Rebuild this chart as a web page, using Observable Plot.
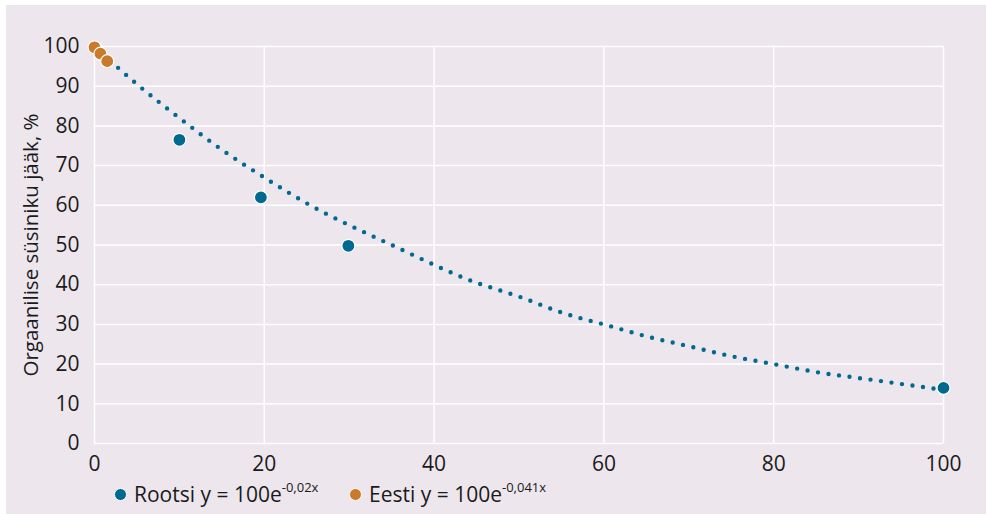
<!DOCTYPE html>
<html><head><meta charset="utf-8">
<script src="https://cdn.jsdelivr.net/npm/d3@7"></script>
<script src="https://cdn.jsdelivr.net/npm/@observablehq/plot@0.6"></script>
<style>
html,body{margin:0;padding:0;background:#fff;}
#wrap{position:absolute;left:6px;top:5px;width:980px;height:509px;background:#ede6ed;font-family:"Open Sans","Noto Sans",sans-serif;color:#1a1a1a;}
#chart{position:absolute;left:0;top:0;}
#ylab{position:absolute;left:24px;top:240px;transform:translate(-50%,-50%) rotate(-90deg);font-size:20.5px;white-space:nowrap;line-height:1;}
.leg{position:absolute;top:476px;height:26px;display:flex;align-items:center;font-size:21px;white-space:nowrap;}
.leg .m{width:11px;height:11px;border-radius:50%;border:1px solid #fff;margin-right:7px;}
.leg sup{font-size:13px;position:relative;top:-2px;}
</style></head>
<body>
<div id="wrap"><div id="chart"></div>
<div id="ylab"></div>
<div class="leg" id="leg1" style="left:108px"><span class="m" style="background:#00698f"></span><span>Rootsi y = 100e<sup>-0,02x</sup></span></div>
<div class="leg" id="leg2" style="left:343px"><span class="m" style="background:#c97a2b"></span><span>Eesti y = 100e<sup>-0,041x</sup></span></div>
</div>
<script>
const rootsiX = [10, 19.6, 29.9, 100];
const rootsiY = [76.5, 62, 49.8, 14];
const eestiX = [0, 0.7, 1.5];
const eestiY = [99.8, 98.2, 96.3];
const trendX = [0, 5, 10, 15, 20, 25, 30, 35, 40, 45, 50, 55, 60, 65, 70, 75, 80, 85, 90, 95, 100];
const trendY = [100, 90.5, 82, 74, 67, 60.5, 55, 50, 45, 40.5, 37, 33, 30, 27, 24.5, 22, 20, 18, 16.5, 15, 13.5];
const xTicks = [0, 20, 40, 60, 80, 100];
const yTicks = [0, 10, 20, 30, 40, 50, 60, 70, 80, 90, 100];
const yLabel = "Orgaanilise süsiniku jääk, %";

document.getElementById("ylab").textContent = yLabel;
const BLUE = "#00698f", ORANGE = "#c97a2b";
const rootsi = rootsiX.map((x, i) => ({x, y: rootsiY[i]}));
const eesti = eestiX.map((x, i) => ({x, y: eestiY[i]}));
const trend = trendX.map((x, i) => ({x, y: trendY[i]}));

const plot = Plot.plot({
  width: 980, height: 475,
  marginLeft: 88, marginRight: 43, marginTop: 41, marginBottom: 37,
  style: {background: "transparent", fontFamily: "'Open Sans','Noto Sans',sans-serif", fontSize: "21px", color: "#1a1a1a", overflow: "visible"},
  x: {domain: [0, 100], ticks: xTicks, tickSize: 0, tickPadding: 13, label: null},
  y: {domain: [0, 100], ticks: yTicks, tickSize: 0, tickPadding: 15, label: null},
  marks: [
    Plot.ruleY(yTicks, {stroke: "#fff", strokeWidth: 1.5}),
    Plot.ruleX(xTicks, {stroke: "#fff", strokeWidth: 1.5}),
    Plot.line(trend, {x: "x", y: "y", curve: "natural", stroke: BLUE, strokeWidth: 4.4, strokeDasharray: "0,10.6", strokeLinecap: "round"}),
    Plot.dot(rootsi, {x: "x", y: "y", r: 6.5, fill: BLUE, stroke: "#fff", strokeWidth: 1.2}),
    Plot.dot(eesti, {x: "x", y: "y", r: 6.5, fill: ORANGE, stroke: "#fff", strokeWidth: 1.2})
  ]
});
document.getElementById("chart").appendChild(plot);
</script>
</body></html>
